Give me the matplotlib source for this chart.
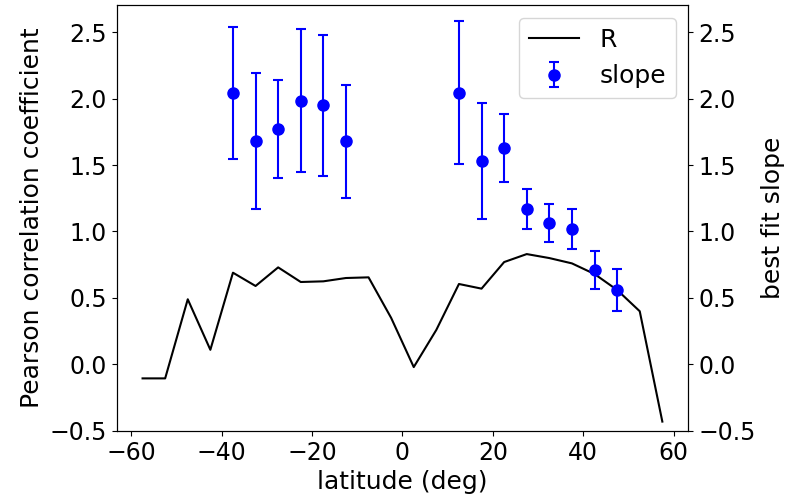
import numpy as np
import matplotlib.pyplot as plt

plt.rcParams['font.size'] = 18
plt.rcParams['xtick.labelsize'] = 17
plt.rcParams['ytick.labelsize'] = 17

# correlation coefficient per latitude band
lat = [-57.5, -52.5, -47.5, -42.5, -37.5, -32.5, -27.5, -22.5, -17.5, -12.5, -7.5, -2.5,
       2.5, 7.5, 12.5, 17.5, 22.5, 27.5, 32.5, 37.5, 42.5, 47.5, 52.5, 57.5]
R = [-0.105, -0.105, 0.49, 0.11, 0.69, 0.59, 0.73, 0.62, 0.625, 0.65, 0.655, 0.35,
     -0.02, 0.26, 0.605, 0.57, 0.77, 0.83, 0.80, 0.76, 0.68, 0.56, 0.40, -0.43]

# best fit slope with errors
lat_s = [-37.5, -32.5, -27.5, -22.5, -17.5, -12.5,
         12.5, 17.5, 22.5, 27.5, 32.5, 37.5, 42.5, 47.5]
slope = [2.04, 1.68, 1.77, 1.985, 1.95, 1.68,
         2.045, 1.53, 1.625, 1.17, 1.065, 1.02, 0.71, 0.56]
slope_err = [0.495, 0.51, 0.37, 0.54, 0.53, 0.425,
             0.535, 0.435, 0.255, 0.15, 0.145, 0.15, 0.14, 0.155]

fig, ax = plt.subplots(figsize=(7.93, 4.97), dpi=100)
fig.subplots_adjust(left=0.147, right=0.868, bottom=0.133, top=0.989)

l1, = ax.plot(lat, R, color='k', lw=1.5, label='R')
ax.set_ylim(-0.5, 2.7)
ax.set_xlabel('latitude (deg)')
ax.set_ylabel('Pearson correlation coefficient')

ax2 = ax.twinx()
eb = ax2.errorbar(lat_s, slope, yerr=slope_err, fmt='o', color='b',
                  ms=8, elinewidth=1.5, capsize=3.5, capthick=1.5, label='slope')
ax2.set_ylim(-0.5, 2.7)
ax2.set_ylabel('best fit slope')

ax2.legend([l1, eb], ['R', 'slope'], loc='upper right')

plt.savefig('out.png')
